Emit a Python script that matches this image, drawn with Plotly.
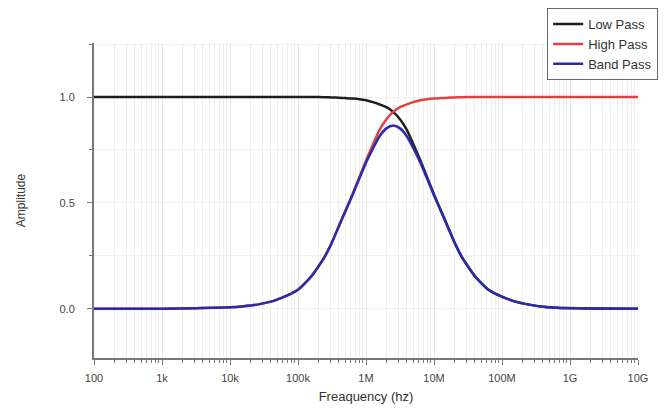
import plotly.graph_objects as go

# Frequencies (Hz)
freq = [100, 1000, 3162, 1e4, 1.585e4, 2.512e4, 3.981e4, 5.012e4, 6.31e4, 7.943e4,
        1e5, 1.259e5, 1.585e5, 1.995e5, 2.512e5, 3.162e5, 3.981e5, 5.012e5, 6.31e5, 7.943e5,
        1e6, 1.259e6, 1.585e6, 1.995e6, 2.512e6, 3.162e6, 3.981e6, 5.012e6, 6.31e6, 7.943e6,
        1e7, 1.259e7, 1.585e7, 1.995e7, 2.512e7, 3.162e7, 3.981e7, 5.012e7, 6.31e7, 7.943e7,
        1e8, 1.259e8, 1.585e8, 2.512e8, 3.981e8, 6.31e8, 2e9, 1e10]

low_pass = [1, 1, 1, 1, 1, 1, 1, 1, 1, 1,
            1, 1, 1, 1, 0.999, 0.998, 0.997, 0.995, 0.993, 0.99,
            0.985, 0.976, 0.965, 0.952, 0.93, 0.895, 0.845, 0.775, 0.70, 0.62,
            0.54, 0.465, 0.39, 0.315, 0.25, 0.20, 0.155, 0.12, 0.09, 0.072,
            0.058, 0.045, 0.034, 0.02, 0.01, 0.005, 0.002, 0]

high_pass = [0, 0.001, 0.003, 0.007, 0.012, 0.02, 0.034, 0.045, 0.058, 0.072,
             0.09, 0.12, 0.155, 0.20, 0.25, 0.315, 0.39, 0.465, 0.54, 0.62,
             0.70, 0.775, 0.845, 0.895, 0.93, 0.952, 0.965, 0.976, 0.985, 0.99,
             0.993, 0.995, 0.997, 0.998, 0.999, 1, 1, 1, 1, 1,
             1, 1, 1, 1, 1, 1, 1, 1]

band_pass = [0, 0.001, 0.003, 0.007, 0.012, 0.02, 0.034, 0.045, 0.058, 0.072,
             0.09, 0.12, 0.155, 0.20, 0.25, 0.314, 0.389, 0.463, 0.536, 0.614,
             0.69, 0.756, 0.815, 0.852, 0.865, 0.852, 0.815, 0.756, 0.69, 0.614,
             0.536, 0.463, 0.389, 0.314, 0.25, 0.20, 0.155, 0.12, 0.09, 0.072,
             0.058, 0.045, 0.034, 0.02, 0.01, 0.005, 0.002, 0]

x_tickvals = [1e2, 1e3, 1e4, 1e5, 1e6, 1e7, 1e8, 1e9, 1e10]
x_ticktext = ["100", "1k", "10k", "100k", "1M", "10M", "100M", "1G", "10G"]
y_tickvals = [0.0, 0.5, 1.0]
y_ticktext = ["0.0", "0.5", "1.0"]

fig = go.Figure()
fig.add_trace(go.Scatter(x=freq, y=low_pass, mode="lines", name="Low Pass",
                         line=dict(color="#1e1e1e", width=2.5, shape="spline", smoothing=0.6)))
fig.add_trace(go.Scatter(x=freq, y=high_pass, mode="lines", name="High Pass",
                         line=dict(color="#e04040", width=2.5, shape="spline", smoothing=0.6)))
fig.add_trace(go.Scatter(x=freq, y=band_pass, mode="lines", name="Band Pass",
                         line=dict(color="#2a2ab0", width=2.5, shape="spline", smoothing=0.6)))

font_family = "Liberation Sans, Arial, sans-serif"

fig.update_layout(
    width=665, height=414,
    margin=dict(l=94, r=27, t=43, b=56, autoexpand=False),
    paper_bgcolor="white", plot_bgcolor="white",
    font=dict(family=font_family, color="#333333", size=11),
    showlegend=True,
    legend=dict(x=0.833, y=1.111, xanchor="left", yanchor="top",
                bordercolor="#666666", borderwidth=1, bgcolor="white",
                font=dict(size=13, color="#333333"), tracegroupgap=0,
                itemwidth=30),
    xaxis=dict(
        type="log", range=[2, 10],
        tickvals=x_tickvals, ticktext=x_ticktext,
        showline=True, linecolor="#777777", linewidth=2,
        ticks="outside", ticklen=5, tickcolor="#777777",
        showgrid=True, gridcolor="#e6e6e6", gridwidth=1,
        minor=dict(dtick="D1", showgrid=True, gridcolor="#eeeeee",
                   ticks="outside", ticklen=3, tickcolor="#777777"),
        zeroline=False, mirror=False,
        ticklabelstandoff=4,
        title=dict(text="Freaquency (hz)", font=dict(size=13, color="#333333"), standoff=9),
        tickfont=dict(size=11, color="#444444"),
    ),
    yaxis=dict(
        range=[-0.232, 1.255],
        tickvals=y_tickvals, ticktext=y_ticktext,
        showline=True, linecolor="#777777", linewidth=2,
        ticks="outside", ticklen=5, tickcolor="#777777",
        showgrid=True, gridcolor="#f0f0f0",
        minor=dict(dtick=0.25, tick0=0, showgrid=True, gridcolor="#f2f2f2",
                   ticks="outside", ticklen=3, tickcolor="#777777"),
        zeroline=False,
        ticklabelstandoff=10,
        title=dict(text="Amplitude", font=dict(size=12, color="#333333"), standoff=31),
        tickfont=dict(size=11, color="#444444"),
    ),
)

fig.write_html("out.html")
